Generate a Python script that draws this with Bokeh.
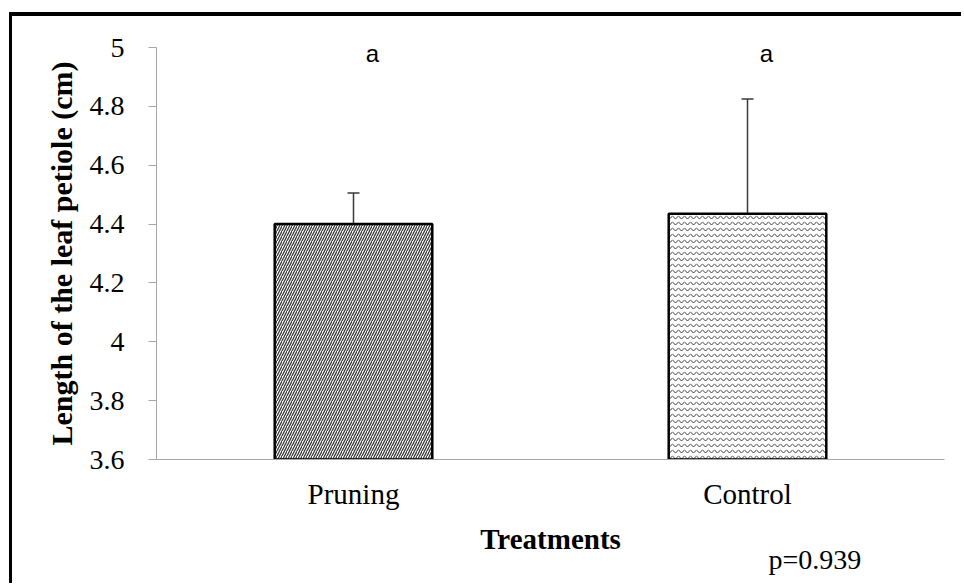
from bokeh.plotting import figure
from bokeh.models import ColumnDataSource, Whisker, TeeHead, Title, FixedTicker
from bokeh.core.properties import value
from bokeh.embed import file_html
from bokeh.resources import INLINE

# Mean petiole length per treatment with its error (cm)
treatments = ["Pruning", "Control"]
mean_length = [4.40, 4.435]
error_length = [0.106, 0.39]
letters = ["a", "a"]
y_ticks = [3.6, 3.8, 4.0, 4.2, 4.4, 4.6, 4.8, 5.0]
p_value_text = "p=0.939"

SERIF = "Liberation Serif"
SANS = "Liberation Sans"
AXIS_GREY = "#a6a6a6"

p = figure(x_range=treatments, y_range=(3.6, 5.0), width=952, height=571,
           output_backend="svg", toolbar_location=None,
           min_border_left=144, min_border_right=20,
           min_border_top=31, min_border_bottom=128)
# Heavy black frame on the top and left of the chart
p.margin = (12, 0, 0, 9)
p.styles = {"border-left": "3px solid black", "border-top": "4px solid black"}
p.background_fill_color = "white"
p.border_fill_color = "white"
p.outline_line_color = None
p.grid.grid_line_color = None

# Hatched bars: diagonal lines for pruning, waves for the control
patterns = {"Pruning": ("/", 5.0, 1.3, "#3a3a3a"), "Control": ("v", 6.0, 1.0, "#3a3a3a")}
for name, m in zip(treatments, mean_length):
    pat, scale, weight, colour = patterns[name]
    p.vbar(x=[name], top=[m], bottom=3.6, width=0.4,
           fill_color="white", line_color="black", line_width=2.5,
           hatch_pattern=pat, hatch_scale=scale, hatch_color=colour,
           hatch_weight=weight)

# Error bars
src = ColumnDataSource(dict(
    x=treatments,
    upper=[m + e for m, e in zip(mean_length, error_length)],
    lower=[m - e for m, e in zip(mean_length, error_length)],
))
head = dict(size=12, line_color="#3a3a3a", line_width=1.5)
p.add_layout(Whisker(source=src, base="x", upper="upper", lower="lower",
                     line_color="#3a3a3a", line_width=1.5,
                     upper_head=TeeHead(**head), lower_head=TeeHead(**head)))

# Significance letters near the top of the plot
p.text(x=treatments, y=[4.98] * len(treatments), text=letters, x_offset=19,
       text_align="center", text_baseline="middle",
       text_font=value(SANS), text_font_size="24px", text_color="black")

# Axes
p.yaxis.ticker = FixedTicker(ticks=y_ticks)
p.yaxis.major_label_overrides = {t: ("%g" % t) for t in y_ticks}
p.yaxis.axis_label = "Length of the leaf petiole (cm)"
p.yaxis.axis_label_text_font = SERIF
p.yaxis.axis_label_text_font_style = "bold"
p.yaxis.axis_label_text_font_size = "30px"
p.yaxis.axis_label_text_color = "black"
p.yaxis.axis_label_standoff = 9
p.yaxis.major_label_text_font = SERIF
p.yaxis.major_label_text_font_size = "28px"
p.yaxis.major_label_text_color = "black"
p.yaxis.major_label_standoff = 24
p.yaxis.major_tick_out = 8
p.yaxis.major_tick_in = 0
p.yaxis.minor_tick_line_color = None
p.yaxis.axis_line_color = AXIS_GREY
p.yaxis.major_tick_line_color = AXIS_GREY

p.xaxis.axis_label = "Treatments"
p.xaxis.axis_label_text_font = SERIF
p.xaxis.axis_label_text_font_style = "bold"
p.xaxis.axis_label_text_font_size = "29px"
p.xaxis.axis_label_text_color = "black"
p.xaxis.axis_label_standoff = 10
p.xaxis.major_label_text_font = SERIF
p.xaxis.major_label_text_font_size = "29px"
p.xaxis.major_label_text_color = "black"
p.xaxis.major_label_standoff = 18
p.xaxis.major_tick_line_color = None
p.xaxis.major_tick_out = 0
p.xaxis.axis_line_color = AXIS_GREY

# Test result under the axis title, towards the right
p.add_layout(Title(text=p_value_text, align="left", offset=612, standoff=-34,
                   text_font=SERIF, text_font_size="28px",
                   text_font_style="normal", text_color="black"), "below")

open("out.html", "w").write(file_html(p, INLINE))
